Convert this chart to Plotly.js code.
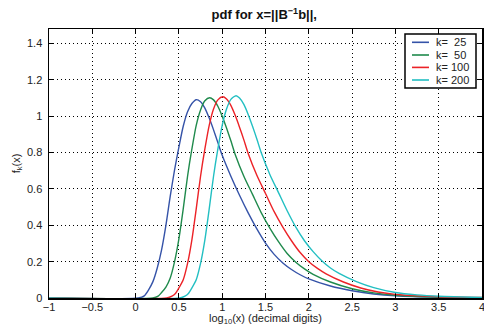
<!DOCTYPE html>
<html>
<head>
<meta charset="utf-8">
<script src="https://cdn.plot.ly/plotly-3.0.1.min.js"></script>
<style>html,body{margin:0;padding:0;background:#fff;}#chart{width:484px;height:326px;}</style>
</head>
<body>
<div id="chart"></div>
<script>
// ---- data ----
const seriesNames = ['k=\u00a0\u00a025', 'k=\u00a0\u00a050', 'k=\u00a0100', 'k=\u00a0200'];

const x25 = [-1, 0.03, 0.10, 0.15, 0.20, 0.25, 0.30, 0.35, 0.40, 0.45, 0.50, 0.55, 0.60, 0.65, 0.70, 0.75, 0.80, 0.85, 0.90, 0.95, 1.00, 1.10, 1.20, 1.30, 1.40, 1.50, 1.60, 1.70, 1.80, 1.90, 2.00, 2.25, 2.50, 2.75, 3.00, 3.50, 4.00];
const y25 = [0, 0, 0.012, 0.045, 0.09, 0.165, 0.265, 0.40, 0.56, 0.705, 0.83, 0.945, 1.025, 1.07, 1.091, 1.08, 1.045, 0.99, 0.925, 0.855, 0.785, 0.67, 0.565, 0.468, 0.38, 0.302, 0.24, 0.193, 0.157, 0.128, 0.105, 0.066, 0.04, 0.022, 0.012, 0.004, 0.0015];

const x50 = [-1, 0.20, 0.26, 0.30, 0.35, 0.40, 0.45, 0.50, 0.55, 0.60, 0.65, 0.70, 0.75, 0.80, 0.855, 0.90, 0.95, 1.00, 1.05, 1.10, 1.15, 1.25, 1.35, 1.45, 1.55, 1.65, 1.75, 1.85, 1.95, 2.05, 2.25, 2.50, 2.75, 3.00, 3.50, 4.00];
const y50 = [0, 0, 0.01, 0.03, 0.06, 0.11, 0.2, 0.325, 0.49, 0.67, 0.82, 0.95, 1.035, 1.085, 1.102, 1.09, 1.055, 1.0, 0.935, 0.865, 0.79, 0.67, 0.57, 0.47, 0.385, 0.31, 0.245, 0.197, 0.16, 0.13, 0.088, 0.051, 0.028, 0.015, 0.005, 0.002];

const x100 = [-1, 0.36, 0.42, 0.46, 0.50, 0.55, 0.60, 0.65, 0.70, 0.75, 0.80, 0.85, 0.90, 0.95, 1.007, 1.05, 1.10, 1.15, 1.20, 1.25, 1.30, 1.40, 1.50, 1.60, 1.70, 1.80, 1.90, 2.00, 2.10, 2.20, 2.40, 2.60, 2.80, 3.00, 3.50, 4.00];
const y100 = [0, 0, 0.01, 0.025, 0.055, 0.1, 0.19, 0.32, 0.49, 0.67, 0.82, 0.95, 1.04, 1.09, 1.107, 1.095, 1.06, 1.005, 0.94, 0.87, 0.795, 0.675, 0.575, 0.475, 0.39, 0.315, 0.25, 0.2, 0.163, 0.133, 0.088, 0.055, 0.033, 0.02, 0.007, 0.0025];

const x200 = [-1, 0.51, 0.57, 0.61, 0.65, 0.70, 0.75, 0.80, 0.85, 0.90, 0.95, 1.00, 1.05, 1.10, 1.16, 1.20, 1.25, 1.30, 1.35, 1.40, 1.45, 1.55, 1.65, 1.75, 1.85, 1.95, 2.05, 2.15, 2.25, 2.35, 2.55, 2.75, 3.00, 3.25, 3.50, 4.00];
const y200 = [0, 0, 0.01, 0.025, 0.055, 0.1, 0.19, 0.32, 0.49, 0.67, 0.82, 0.95, 1.04, 1.093, 1.113, 1.10, 1.065, 1.01, 0.945, 0.875, 0.80, 0.68, 0.58, 0.48, 0.39, 0.315, 0.255, 0.205, 0.165, 0.135, 0.09, 0.057, 0.03, 0.017, 0.01, 0.0035];

const xTickVals = [-1, -0.5, 0, 0.5, 1, 1.5, 2, 2.5, 3, 3.5, 4];
const xTickText = ['\u22121', '\u22120.5', '0', '0.5', '1', '1.5', '2', '2.5', '3', '3.5', '4'];
const yTickVals = [0, 0.2, 0.4, 0.6, 0.8, 1, 1.2, 1.4];
const yTickText = ['0', '0.2', '0.4', '0.6', '0.8', '1', '1.2', '1.4'];

const colors = ['#3553a8', '#1f8a4c', '#ec2227', '#22bfc2'];
const xs = [x25, x50, x100, x200];
const ys = [y25, y50, y100, y200];

const traces = xs.map((x, i) => ({
  x: x, y: ys[i], name: seriesNames[i], type: 'scatter', mode: 'lines',
  showlegend: false,
  line: {color: colors[i], width: 1.4, shape: 'spline', smoothing: 0.7}
}));

const FONT = 'Liberation Sans, Arial, Helvetica, sans-serif';
const W = 484, H = 326, M = {l: 49, r: 2, t: 29, b: 28};
const PW = W - M.l - M.r, PH = H - M.t - M.b;
const xp = px => (px - M.l) / PW;
const yp = py => (H - M.b - py) / PH;

// hand-drawn legend box (matches the compact MATLAB legend)
const legBox = {x0: 405, x1: 476, y0: 34, y1: 88};
const rowY = [42.3, 55, 67.4, 80];
const shapes = [{
  type: 'rect', xref: 'paper', yref: 'paper',
  x0: xp(legBox.x0), x1: xp(legBox.x1), y0: yp(legBox.y1), y1: yp(legBox.y0),
  line: {color: '#000', width: 1.5}, fillcolor: '#fff', layer: 'above'
}];
const annotations = [];
seriesNames.forEach((n, i) => {
  shapes.push({type: 'line', xref: 'paper', yref: 'paper',
    x0: xp(412), x1: xp(429), y0: yp(rowY[i]), y1: yp(rowY[i]),
    line: {color: colors[i], width: 1.6}, layer: 'above'});
  annotations.push({xref: 'paper', yref: 'paper', x: xp(434), y: yp(rowY[i]),
    xanchor: 'left', yanchor: 'middle', showarrow: false, text: n,
    font: {family: FONT, size: 11, color: '#222'}});
});

const axisCommon = {
  showline: true, linecolor: '#000', linewidth: 1.5, mirror: 'ticks',
  ticks: 'inside', ticklen: 4, tickcolor: '#000', tickwidth: 1,
  showgrid: true, gridcolor: '#000', gridwidth: 1, griddash: '1px,3px',
  zeroline: false, tickfont: {family: FONT, size: 11, color: '#222'},
  ticklabeloverflow: 'allow'
};

const layout = {
  width: W, height: H,
  margin: M,
  paper_bgcolor: '#fff', plot_bgcolor: '#fff',
  font: {family: FONT, size: 11, color: '#222'},
  title: {text: '<b>pdf for x=||B<sup>\u22121</sup>b||,</b>', font: {family: FONT, size: 13, color: '#111'},
          x: 0.546, xanchor: 'center', y: 0.955, yanchor: 'middle'},
  xaxis: Object.assign({}, axisCommon, {
    range: [-1, 4], tickmode: 'array', tickvals: xTickVals, ticktext: xTickText,
    ticklabelstandoff: -2,
    title: {text: 'log<sub>10</sub>(x) (decimal digits)', font: {family: FONT, size: 11, color: '#222'}, standoff: 3}
  }),
  yaxis: Object.assign({}, axisCommon, {
    range: [0, 1.48], tickmode: 'array', tickvals: yTickVals, ticktext: yTickText,
    ticklabelstandoff: 3,
    title: {text: 'f<sub>k</sub>(x)', font: {family: FONT, size: 11, color: '#222'}, standoff: 4}
  }),
  showlegend: false,
  shapes: shapes,
  annotations: annotations
};

Plotly.newPlot('chart', traces, layout, {displayModeBar: false, staticPlot: true});
</script>
</body>
</html>
